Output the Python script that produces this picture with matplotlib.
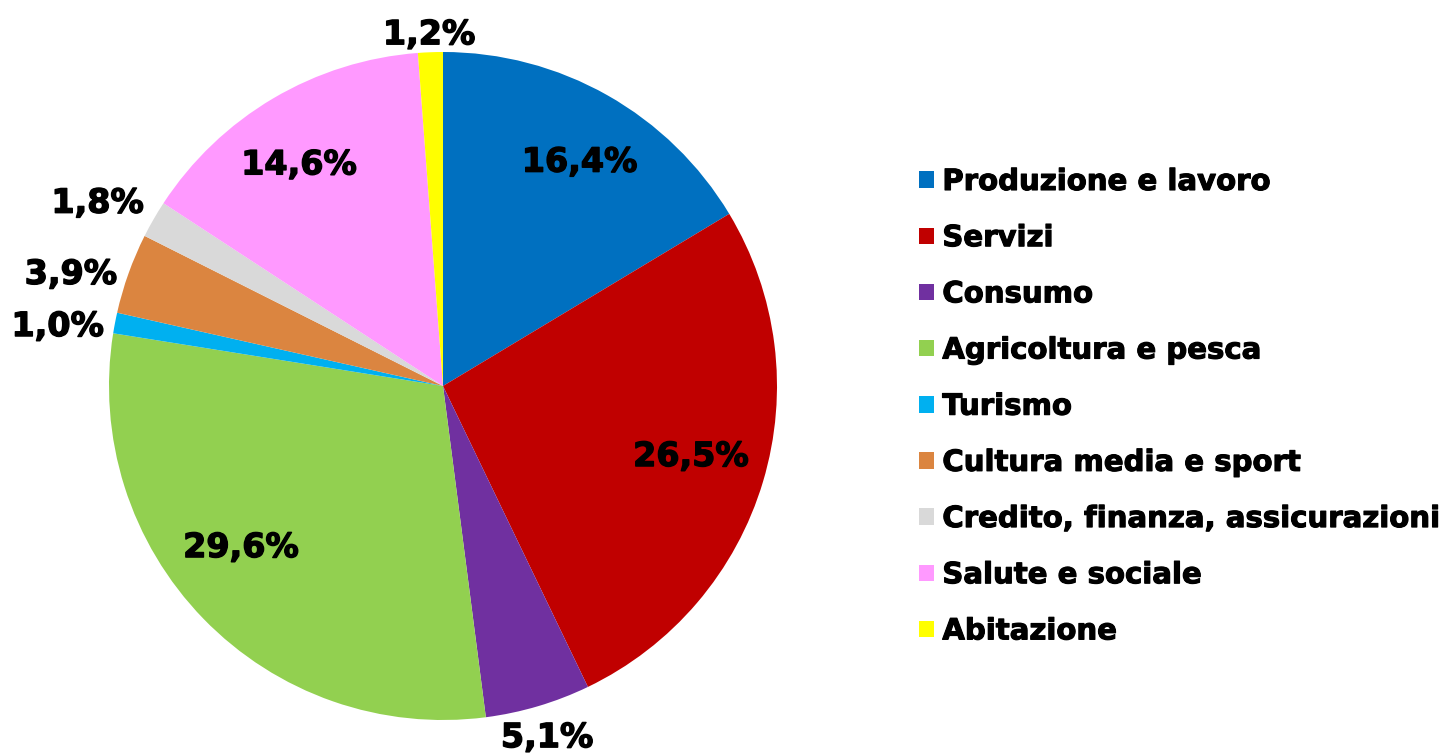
import matplotlib
matplotlib.use("Agg")
import matplotlib.pyplot as plt
from matplotlib.patches import Patch
import matplotlib.patheffects as pe
import numpy as np

categories = ["Produzione e lavoro", "Servizi", "Consumo", "Agricoltura e pesca",
              "Turismo", "Cultura media e sport", "Credito, finanza, assicurazioni",
              "Salute e sociale", "Abitazione"]
values = [16.4, 26.5, 5.1, 29.6, 1.0, 3.9, 1.8, 14.6, 1.2]
pct_labels = ["16,4%", "26,5%", "5,1%", "29,6%", "1,0%", "3,9%", "1,8%", "14,6%", "1,2%"]
colors = ["#0070C0", "#C00000", "#7030A0", "#92D050", "#00B0F0",
          "#DB8540", "#D9D9D9", "#FF99FF", "#FFFF00"]
# label placement (radius in pie radii, angular nudge in degrees)
label_dist = [0.794, 0.769, 1.088, 0.768, 1.169, 1.166, 1.175, 0.799, 1.063]
label_nudge = [-1.5, 1.5, 0.1, -6.1, 1.6, 2.5, 1.6, 2.1, 0.1]

plt.rcParams['font.family'] = ['DejaVu Sans']
fig = plt.figure(figsize=(14.47, 7.53), dpi=100)
W, H = 1447, 753
cx, cy, R = 443, 386, 334
ax = fig.add_axes([(cx - R) / W, (H - cy - R) / H, 2 * R / W, 2 * R / H])
wedges, _ = ax.pie(values, colors=colors, startangle=90, counterclock=False,
                   radius=1.0, wedgeprops=dict(linewidth=0))
ax.set_xlim(-1, 1)
ax.set_ylim(-1, 1)
ax.set_aspect('equal')
ax.axis('off')

stroke = [pe.withStroke(linewidth=1.0, foreground='black')]
for w, lab, d, nud in zip(wedges, pct_labels, label_dist, label_nudge):
    ang = np.deg2rad((w.theta1 + w.theta2) / 2 + nud)
    ax.text(d * np.cos(ang), d * np.sin(ang), lab, ha='center', va='center_baseline',
            fontsize=24, fontweight='bold', color='black', clip_on=False,
            path_effects=stroke)

handles = [Patch(facecolor=c, edgecolor='none') for c in colors]
leg = fig.legend(handles, categories, loc='upper left', bbox_to_anchor=(919 / W, 1 - 168 / H),
                 frameon=False, prop=dict(size=21, weight='bold'),
                 handlelength=0.5, handleheight=0.5, handletextpad=0.3,
                 labelspacing=0.966, borderaxespad=0, borderpad=0)
for t in leg.get_texts():
    t.set_path_effects([pe.withStroke(linewidth=0.8, foreground='black')])

fig.savefig("out.png", dpi=100)
